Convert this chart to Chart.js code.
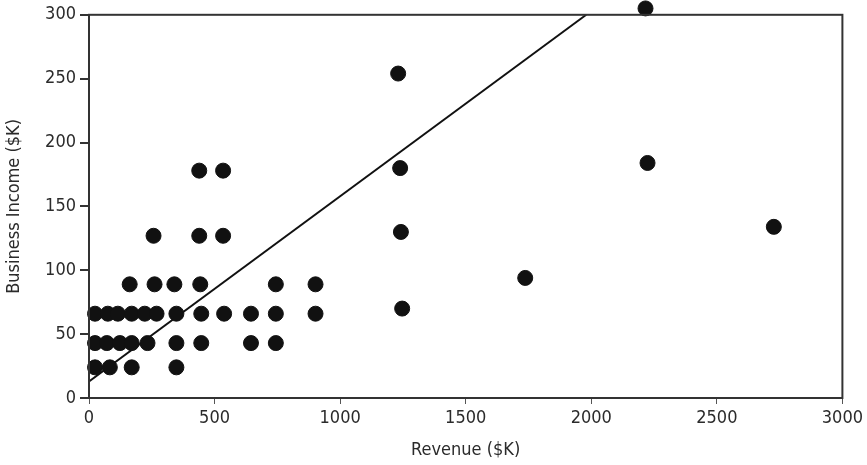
<!DOCTYPE html>
<html>
<head>
<meta charset="utf-8">
<script src="https://cdn.jsdelivr.net/npm/chart.js@4"></script>
<style>
  html, body { margin: 0; padding: 0; background: #fff; }
  #wrap { width: 867px; height: 465px; }
</style>
</head>
<body>
<div id="wrap"><canvas id="scatter"></canvas></div>
<script>
// data (revenue $K, business income $K)
const revenue = [
  24, 75, 115, 170, 222, 269, 348, 447, 538, 645, 744, 902,
  24, 71, 123, 170, 233, 348, 447, 645, 744,
  24, 83, 170, 348,
  162, 261, 340, 443, 744, 902,
  257, 439, 534,
  439, 534,
  1231, 1239, 1242, 1247, 1737, 2216, 2224, 2727
];
const income = [
  66, 66, 66, 66, 66, 66, 66, 66, 66, 66, 66, 66,
  43, 43, 43, 43, 43, 43, 43, 43, 43,
  24, 24, 24, 24,
  89, 89, 89, 89, 89, 89,
  127, 127, 127,
  178, 178,
  254, 180, 130, 70, 94, 305, 184, 134
];
// fitted line end points
const trendX = [0, 1980];
const trendY = [13, 300];

const xTicks = [0, 500, 1000, 1500, 2000, 2500, 3000];
const yTicks = [0, 50, 100, 150, 200, 250, 300];

const points = revenue.map((r, i) => ({ x: r, y: income[i] }));
const trend = trendX.map((t, i) => ({ x: t, y: trendY[i] }));

const fontFam = "'Liberation Sans Narrow', 'DejaVu Sans Condensed', 'Liberation Sans', sans-serif";
const ink = '#2b2b2b';

// box round the plot area
const frame = {
  id: 'frame',
  afterDraw(chart) {
    const a = chart.chartArea, c = chart.ctx;
    c.save();
    c.strokeStyle = '#333';
    c.lineWidth = 2;
    c.strokeRect(a.left, a.top, a.right - a.left, a.bottom - a.top);
    c.restore();
  }
};

new Chart(document.getElementById('scatter'), {
  type: 'scatter',
  data: {
    datasets: [
      {
        label: 'Trend',
        type: 'line',
        data: trend,
        borderColor: '#111',
        borderWidth: 2,
        pointRadius: 0,
        fill: false,
        order: 2
      },
      {
        label: 'Businesses',
        data: points,
        backgroundColor: '#111',
        borderColor: '#111',
        pointRadius: 7.5,
        pointHoverRadius: 7.5,
        clip: false,
        order: 1
      }
    ]
  },
  options: {
    responsive: true,
    maintainAspectRatio: false,
    animation: false,
    layout: { padding: { top: 14, right: 16, left: 0, bottom: 0 } },
    plugins: {
      legend: { display: false },
      tooltip: { enabled: false }
    },
    scales: {
      x: {
        type: 'linear',
        min: 0,
        max: 3000,
        afterBuildTicks: s => { s.ticks = xTicks.map(v => ({ value: v })); },
        afterFit: s => { s.height = 67; },
        grid: { drawOnChartArea: false, tickLength: 6, color: '#555', lineWidth: 1 },
        border: { color: '#333', width: 2 },
        ticks: {
          color: ink, padding: 4, font: { family: fontFam, size: 18 },
          callback: v => String(v)
        },
        title: {
          display: true,
          text: 'Revenue ($K)',
          color: ink,
          padding: { top: 4 },
          font: { family: fontFam, size: 18 }
        }
      },
      y: {
        type: 'linear',
        min: 0,
        max: 300,
        afterBuildTicks: s => { s.ticks = yTicks.map(v => ({ value: v })); },
        afterFit: s => { s.width = 89; },
        grid: { drawOnChartArea: false, tickLength: 9, color: '#333', lineWidth: 2 },
        border: { color: '#333', width: 2 },
        ticks: {
          color: ink, padding: 4, font: { family: fontFam, size: 18 },
          callback: v => String(v)
        },
        title: {
          display: true,
          text: 'Business Income ($K)',
          color: ink,
          padding: { top: 4, bottom: 4 },
          font: { family: fontFam, size: 18 }
        }
      }
    }
  },
  plugins: [frame]
});
</script>
</body>
</html>
